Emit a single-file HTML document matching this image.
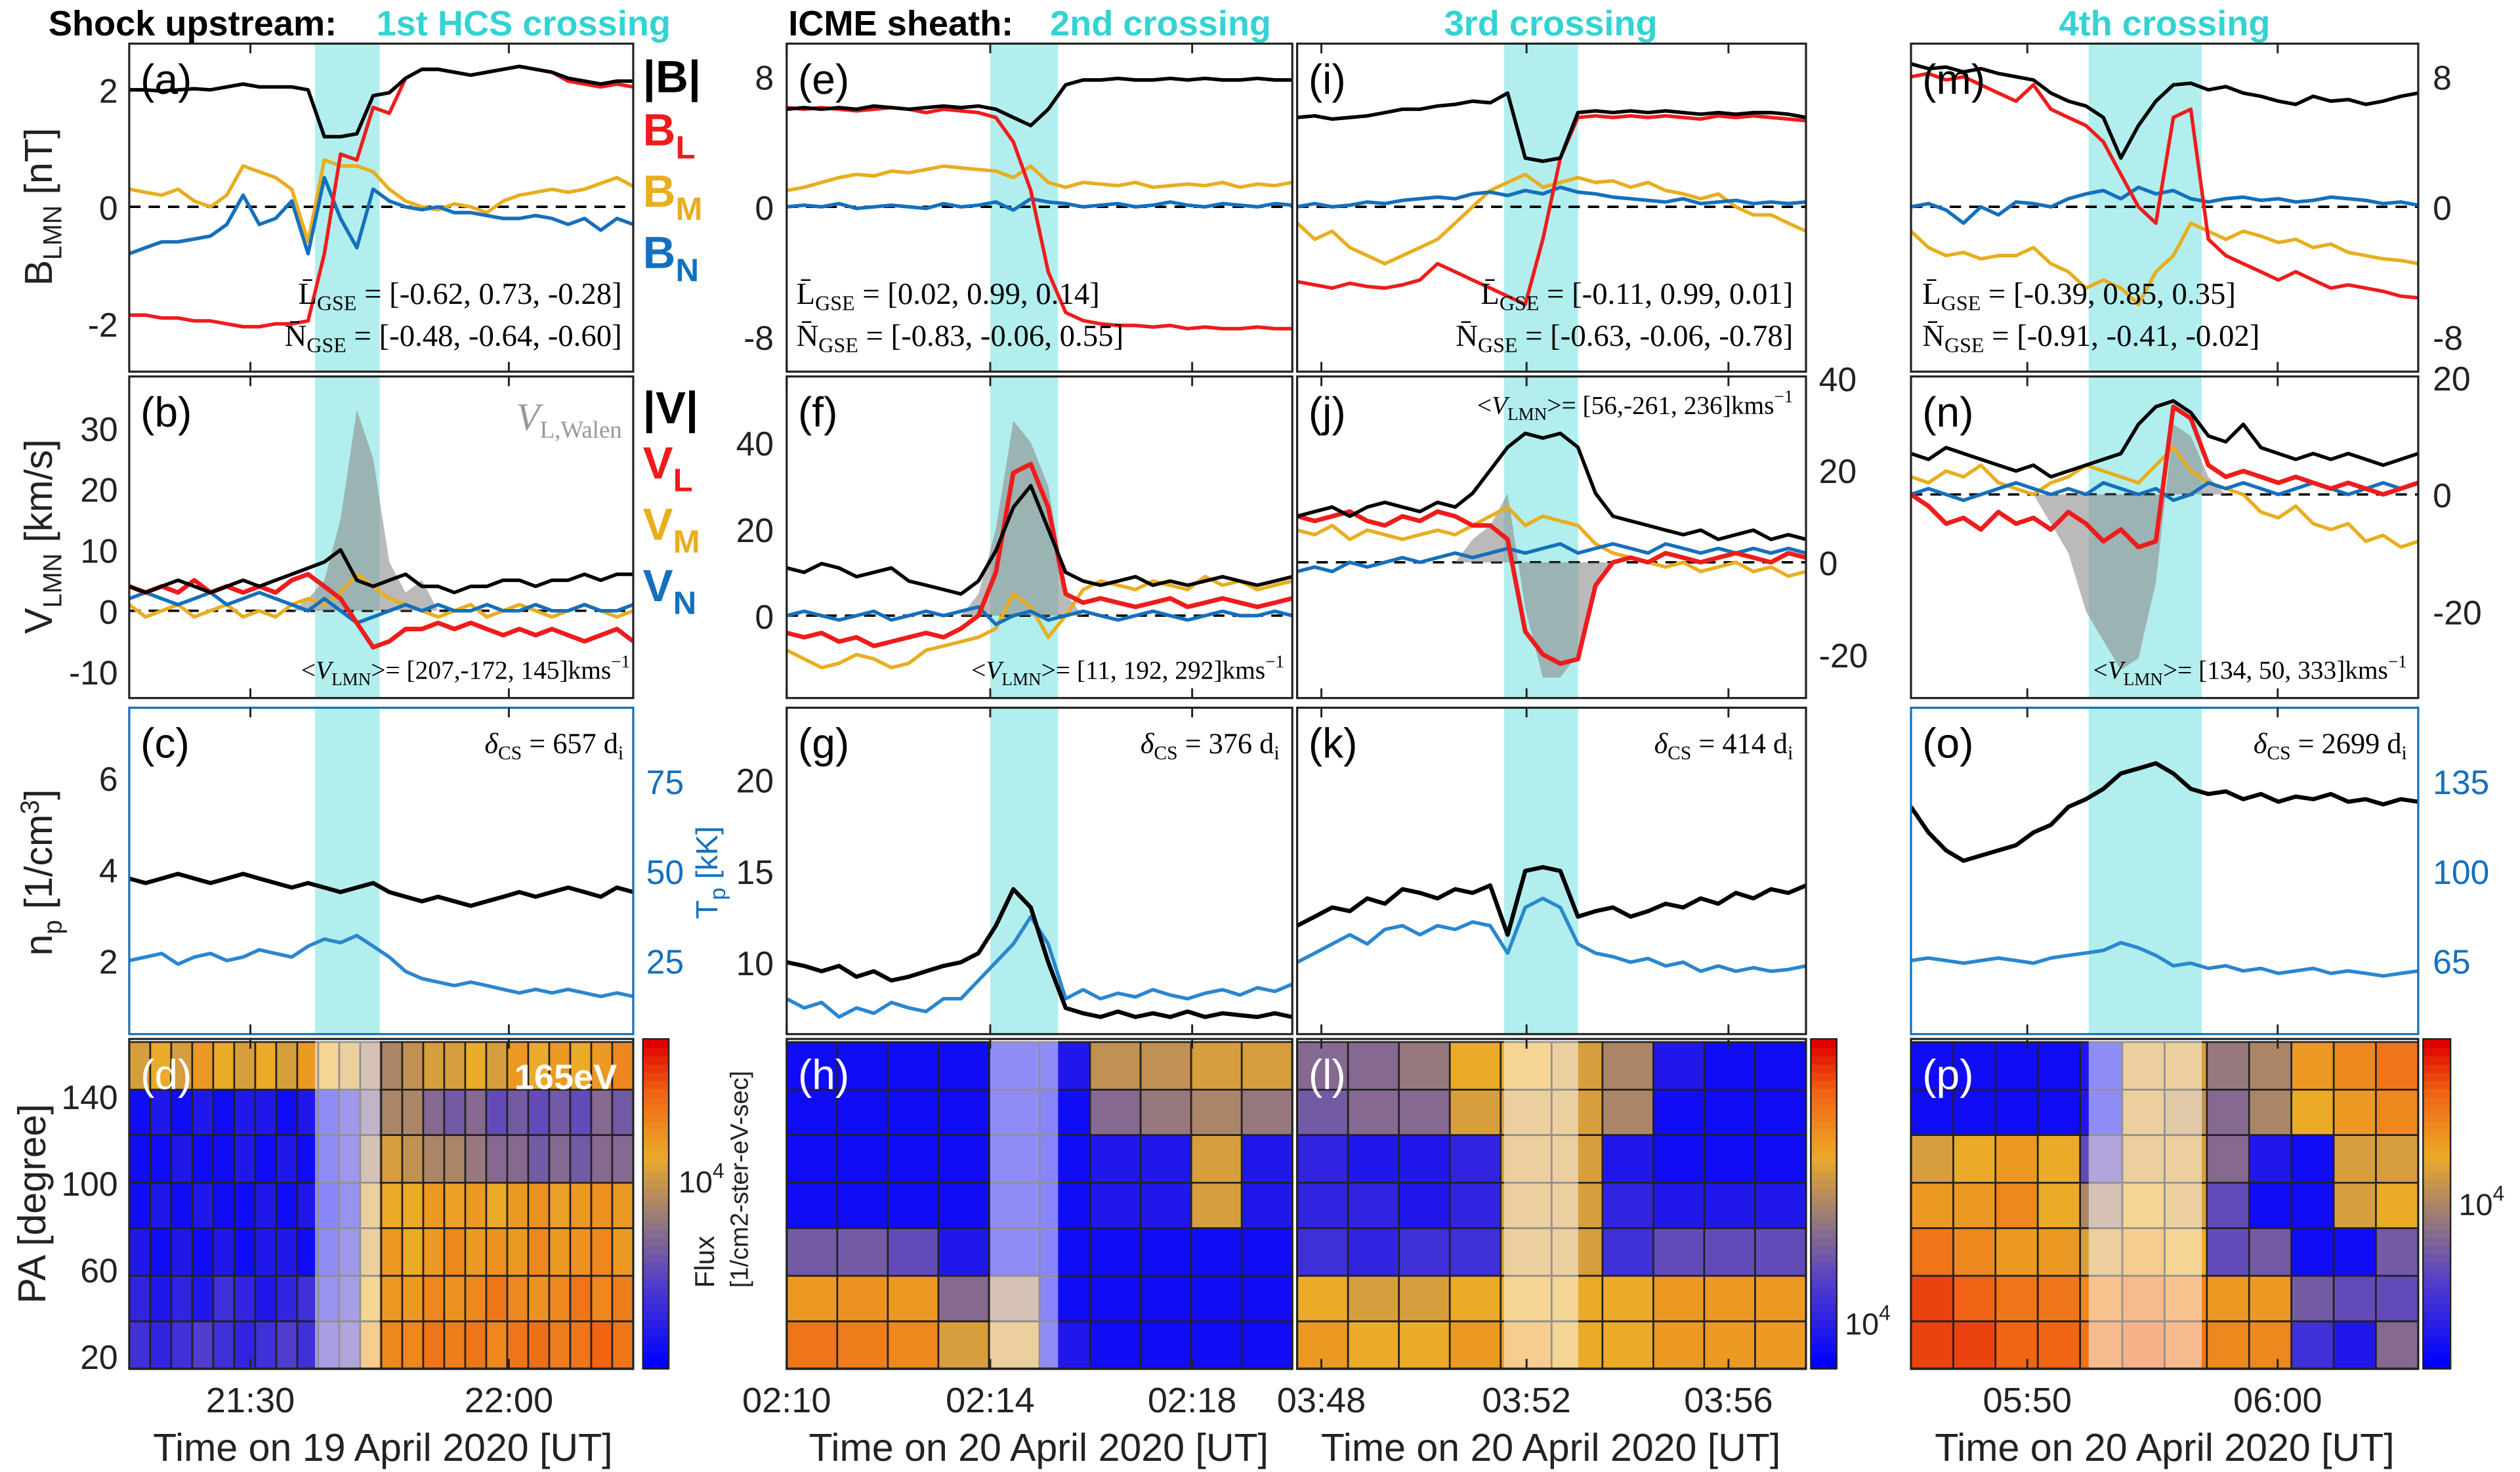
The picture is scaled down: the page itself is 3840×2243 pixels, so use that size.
<!DOCTYPE html>
<html><head><meta charset="utf-8"><style>
html,body{margin:0;padding:0;background:#fff;}
svg{display:block;}
text{font-family:"Liberation Sans",sans-serif;}
.sf{font-family:"Liberation Serif",serif;}
</style></head><body>
<svg id="fig" xmlns="http://www.w3.org/2000/svg" width="3840" height="2243" viewBox="0 0 1560 911" preserveAspectRatio="none">
<rect x="0" y="0" width="1560" height="911" fill="#fff"/>
<g id="layer-bg"></g><g id="layer-data"></g><g id="layer-frame"></g><g id="layer-text"></g>
</svg>
<script>
// ---- data ----
const b1Mag=[2.0,2.0,1.98,2.0,2.02,2.0,2.05,2.1,2.05,2.05,2.05,2.0,1.2,1.2,1.25,1.9,1.95,2.2,2.35,2.35,2.3,2.25,2.3,2.35,2.4,2.35,2.3,2.2,2.15,2.1,2.15,2.15];
const b1L=[-1.85,-1.85,-1.9,-1.9,-1.95,-1.95,-2.0,-2.05,-2.05,-2.0,-2.0,-1.95,-0.8,0.9,0.8,1.7,1.6,2.2,2.35,2.35,2.3,2.25,2.3,2.35,2.4,2.35,2.3,2.15,2.1,2.05,2.1,2.05];
const b1M=[0.3,0.25,0.2,0.3,0.1,0.0,0.2,0.7,0.6,0.5,0.3,-0.6,0.8,0.7,0.7,0.6,0.3,0.1,0.0,-0.05,0.05,0.0,-0.1,0.1,0.2,0.25,0.3,0.25,0.3,0.4,0.5,0.35];
const b1N=[-0.8,-0.7,-0.6,-0.6,-0.55,-0.5,-0.3,0.2,-0.3,-0.2,0.1,-0.8,0.5,-0.2,-0.7,0.3,0.1,0.0,-0.05,0.0,-0.1,-0.1,-0.15,-0.2,-0.2,-0.15,-0.2,-0.3,-0.2,-0.4,-0.2,-0.3];
const v1Mag=[4,3,4,5,4,3,4,5,4,5,6,7,8,10,5,4,5,6,4,4,3,4,4,5,5,4,5,5,6,5,6,6];
const v1L=[4,3,4,3,5,3,4,3,4,3,5,6,4,2,-2,-6,-5,-3,-3,-2,-3,-2,-3,-4,-3,-4,-3,-4,-5,-4,-3,-5];
const v1M=[1,-1,0,1,-1,0,1,-1,0,-1,1,2,1,3,6,4,2,1,0,-1,0,1,-1,0,1,0,-1,0,1,0,-1,0];
const v1N=[2,3,2,1,2,3,1,2,3,2,1,0,2,0,-2,-1,0,1,0,1,0,0,1,0,0,1,0,0,1,0,0,1];
const v1W=[0,0,0,0,0,0,0,0,0,0,0,2,5,15,33,25,8,3,5,0,0,0,0,0,0,0,0,0,0,0,0,0];
const n1=[3.8,3.7,3.8,3.9,3.8,3.7,3.8,3.9,3.8,3.7,3.6,3.7,3.6,3.5,3.6,3.7,3.5,3.4,3.3,3.4,3.3,3.2,3.3,3.4,3.5,3.4,3.5,3.6,3.5,3.4,3.6,3.5];
const t1=[25,26,27,24,26,27,25,26,28,27,26,29,31,30,32,29,26,22,20,19,18,19,18,17,16,17,16,17,16,15,16,15];

const b2Mag=[6,6.1,6,6.1,6,6.2,6.1,6,6.1,6.2,6.1,6.2,6,5.5,5,6,7.5,7.8,7.8,7.9,7.8,7.8,7.9,7.8,7.9,7.8,7.8,7.9,7.8,7.8];
const b2L=[6.1,6,6.1,6,5.9,6,6.1,6,5.8,6,5.9,5.8,5.5,4,1,-4,-6.5,-7,-7.2,-7.3,-7.3,-7.4,-7.3,-7.5,-7.4,-7.5,-7.5,-7.4,-7.5,-7.5];
const b2M=[1,1.2,1.5,1.8,2,1.9,2.2,2.1,2.3,2.5,2.4,2.3,2.2,1.8,2.5,1.5,1.2,1.5,1.4,1.3,1.5,1.2,1.3,1.4,1.3,1.5,1.2,1.4,1.3,1.5];
const b2N=[0,0.1,0,0.2,-0.1,0,0.1,0,-0.1,0.2,0,0.1,0.3,-0.2,0.5,0.3,0.2,0,0.1,0.2,0,0.1,0.3,0.1,0,0.2,0.1,0,0.2,0.1];
const v2Mag=[11,10,12,11,9,10,11,8,7,6,5,8,15,25,30,20,10,8,7,8,9,7,8,7,8,9,8,7,8,9];
const v2L=[-4,-5,-4,-6,-5,-7,-6,-5,-4,-5,-3,0,10,33,35,25,5,3,4,3,2,3,4,2,3,4,3,2,3,4];
const v2M=[-8,-10,-12,-11,-9,-10,-12,-11,-8,-7,-6,-5,-3,5,2,-5,0,6,8,7,6,8,7,6,9,7,8,6,7,8];
const v2N=[0,1,0,-1,0,1,-1,0,1,0,1,2,-2,0,1,-1,0,1,0,-1,0,1,0,-1,0,1,0,0,1,0];
const v2W=[0,0,0,0,0,0,0,0,0,0,0,5,20,45,40,30,5,0,0,0,0,0,0,0,0,0,0,0,0,0];
const n2=[10,9.8,9.5,9.8,9.2,9.5,9,9.2,9.5,9.8,10,10.5,12,14,13,10,7.5,7.2,7,7.3,7,7.2,7,7.3,7,7.2,7.1,7,7.2,7];
const t2=[8,7.5,7.8,7,7.5,7.2,7.8,7.5,7.3,8,8,9,10,11,12.5,11,8,8.5,8,8.3,8.1,8.5,8.2,8,8.3,8.5,8.2,8.6,8.4,8.8];

const b3Mag=[5.5,5.6,5.4,5.5,5.6,5.8,6,6,6.2,6.3,6.5,6.4,7,3,2.8,3,5.8,5.9,5.8,5.9,5.8,5.9,5.8,5.7,5.8,5.7,5.8,5.8,5.7,5.5];
const b3L=[-4.6,-4.8,-5,-4.7,-4.9,-5,-4.8,-4.5,-3.5,-4,-4.5,-5,-5.5,-6,-2,3,5.5,5.6,5.5,5.6,5.5,5.6,5.5,5.4,5.6,5.5,5.6,5.5,5.4,5.3];
const b3M=[-1,-2,-1.5,-2.5,-3,-3.5,-3,-2.5,-2,-1,0,1,1.5,2,1.2,1.5,1.8,1.5,1.6,1.2,1.5,1,0.8,0.5,0.8,0,-0.5,-0.5,-1,-1.5];
const b3N=[0,0.2,0,0.1,0.3,0.2,0.4,0.5,0.6,0.5,0.8,0.9,0.7,1,0.8,1.2,0.9,0.8,0.6,0.5,0.4,0.3,0.5,0.2,0.3,0.4,0.2,0.3,0.2,0.3];
const v3Mag=[10,11,12,10,12,13,12,11,13,12,15,20,25,28,27,28,25,15,10,9,8,7,6,7,5,6,7,5,6,5];
const v3L=[10,9,10,11,9,8,10,9,11,10,8,8,5,-15,-20,-22,-21,-5,0,1,0,2,1,0,1,2,1,0,2,1];
const v3M=[7,6,8,5,7,6,5,6,7,6,8,10,12,8,10,9,8,4,2,1,0,-1,0,-2,-1,0,-2,-1,-3,-2];
const v3N=[-2,-1,-2,0,-1,0,1,0,1,2,1,2,3,2,3,4,2,3,4,3,2,4,3,2,3,2,3,2,3,2];
const v3W=[0,0,0,0,0,0,0,0,0,0,5,8,15,-10,-25,-25,-20,-5,0,0,0,0,0,0,0,0,0,0,0,0];
const n3=[12,12.5,13,12.8,13.5,13.2,14,13.8,13.5,14,13.8,14.2,11.5,15,15.2,15,12.5,12.8,13,12.5,12.8,13.2,13,13.5,13.2,13.8,13.5,14,13.8,14.2];
const t3=[10,10.5,11,11.5,11,11.8,12,11.5,12,11.8,12.2,12,10.5,13,13.5,13,11,10.5,10.3,10,10.2,9.8,10,9.5,9.8,9.5,9.7,9.5,9.6,9.8];

const b4Mag=[8.8,8.5,8.6,8.3,8.5,8.2,8,7.8,7,6.5,6.2,5.5,3,5,6.5,7.5,7.6,7.2,7.4,7,6.8,6.5,6.3,6.8,6.5,6.6,6.3,6.5,6.8,7];
const b4L=[8,8.2,7.8,8,7.5,7,6.5,7.5,6,5.5,5,4,2,0,-1,5.5,6,-2,-3,-3.5,-4,-4.5,-4,-4.5,-5,-4.8,-5,-5.2,-5.5,-5.6];
const b4M=[-1.5,-2.5,-3,-2.8,-3.2,-3,-3,-2.5,-3.5,-4,-5,-4.5,-5,-6,-4,-3,-1,-1.5,-2,-1.5,-1.8,-2.2,-2,-2.5,-2.3,-2.8,-3,-3.2,-3.3,-3.5];
const b4N=[0,0.2,-0.2,-1,0,-0.5,0.3,0.2,0,0.5,0.8,1,0.5,1.2,0.8,1,0.5,0.3,0.5,0.6,0.4,0.5,0.3,0.4,0.6,0.5,0.4,0.2,0.3,0.1];
const v4Mag=[7,6,8,7,6,5,4,5,3,4,5,6,7,12,15,16,14,10,9,12,8,7,6,7,6,7,6,5,6,7];
const v4L=[0,-2,-5,-4,-6,-3,-5,-4,-6,-3,-5,-8,-6,-9,-8,15,13,5,3,4,3,2,3,2,1,2,1,0,1,2];
const v4M=[3,2,4,3,5,2,1,0,2,3,5,4,3,2,5,8,4,2,1,0,-3,-4,-2,-5,-6,-5,-8,-7,-9,-8];
const v4N=[0,1,0,-1,0,1,2,1,0,1,0,2,1,0,1,-1,0,2,1,2,1,0,1,2,1,0,1,2,1,2];
const v4W=[0,0,0,0,0,0,0,0,-5,-10,-20,-25,-30,-28,-15,12,10,3,0,0,0,0,0,0,0,0,0,0,0,0];
const n4=[125,115,108,104,106,108,110,115,118,125,128,132,138,140,142,138,132,130,131,128,130,127,129,128,130,127,128,126,128,127];
const t4=[65,66,65,64,65,66,65,64,66,67,68,69,72,70,67,63,64,62,63,61,62,60,61,62,60,61,60,59,60,61];

const paEdges=[165,143,122,100,79,57,36,14];
const pad1=[[0.6,0.65,0.6,0.7,0.65,0.6,0.65,0.6,0.7,0.65,0.6,0.5,0.5,0.55,0.6,0.6,0.65,0.6,0.7,0.65,0.7,0.65,0.7,0.75],
[0.05,0.1,0.05,0.1,0.05,0.1,0.1,0.05,0.1,0.1,0.2,0.4,0.5,0.5,0.4,0.35,0.4,0.3,0.35,0.3,0.35,0.3,0.4,0.35],
[0.05,0.05,0.1,0.05,0.05,0.1,0.05,0.1,0.05,0.1,0.2,0.5,0.6,0.55,0.5,0.5,0.45,0.4,0.4,0.35,0.4,0.35,0.4,0.4],
[0.05,0.1,0.05,0.1,0.05,0.05,0.1,0.05,0.1,0.05,0.15,0.6,0.65,0.65,0.7,0.68,0.7,0.65,0.7,0.72,0.68,0.7,0.72,0.7],
[0.1,0.05,0.1,0.05,0.1,0.05,0.1,0.1,0.05,0.1,0.2,0.6,0.7,0.65,0.7,0.75,0.7,0.72,0.7,0.75,0.7,0.72,0.75,0.7],
[0.15,0.1,0.15,0.1,0.2,0.15,0.1,0.15,0.2,0.15,0.25,0.65,0.7,0.7,0.75,0.72,0.75,0.8,0.75,0.72,0.75,0.8,0.75,0.78],
[0.2,0.15,0.2,0.25,0.2,0.15,0.2,0.25,0.2,0.25,0.3,0.7,0.75,0.75,0.8,0.78,0.8,0.75,0.8,0.82,0.78,0.8,0.85,0.8]];
const pad2=[[0.05,0.05,0.05,0.05,0.1,0.1,0.55,0.55,0.6,0.6],
[0.05,0.05,0.05,0.05,0.1,0.05,0.4,0.45,0.5,0.45],
[0.05,0.05,0.05,0.05,0.1,0.05,0.1,0.1,0.6,0.1],
[0.05,0.05,0.05,0.05,0.1,0.05,0.1,0.1,0.6,0.1],
[0.35,0.35,0.3,0.1,0.1,0.05,0.05,0.05,0.05,0.05],
[0.7,0.72,0.7,0.4,0.5,0.05,0.05,0.05,0.05,0.05],
[0.8,0.78,0.75,0.6,0.6,0.1,0.05,0.05,0.05,0.05]];
const pad3=[[0.4,0.4,0.45,0.65,0.65,0.6,0.5,0.1,0.05,0.05],
[0.35,0.4,0.4,0.6,0.6,0.6,0.5,0.05,0.05,0.05],
[0.15,0.1,0.1,0.15,0.6,0.6,0.1,0.05,0.05,0.05],
[0.15,0.15,0.1,0.15,0.6,0.6,0.15,0.1,0.1,0.1],
[0.2,0.15,0.2,0.2,0.6,0.6,0.2,0.3,0.3,0.3],
[0.65,0.6,0.6,0.65,0.65,0.65,0.65,0.7,0.7,0.7],
[0.7,0.65,0.65,0.7,0.7,0.65,0.65,0.7,0.7,0.7]];
const pad4=[[0.05,0.05,0.05,0.05,0.1,0.6,0.6,0.45,0.5,0.7,0.75,0.8],
[0.05,0.05,0.05,0.05,0.1,0.6,0.55,0.4,0.5,0.65,0.7,0.75],
[0.6,0.65,0.7,0.65,0.3,0.6,0.6,0.4,0.1,0.05,0.6,0.6],
[0.7,0.7,0.75,0.65,0.5,0.65,0.6,0.3,0.05,0.05,0.6,0.65],
[0.8,0.75,0.7,0.7,0.6,0.7,0.65,0.3,0.35,0.05,0.05,0.35],
[0.9,0.85,0.8,0.8,0.75,0.8,0.75,0.7,0.7,0.35,0.3,0.3],
[0.9,0.9,0.85,0.85,0.8,0.85,0.8,0.75,0.75,0.2,0.1,0.4]];

// ---- layout ----
const NS="http://www.w3.org/2000/svg";
const COLS=[[80,392],[487,800],[803,1118],[1183,1497]];
const CYAN=[[195,235],[613,655],[931,977],[1293,1363]];
const ROWS=[[27,230],[233,432],[438,640],[643,847]];
const RED="#ee1c1c",ORG="#e8ae20",BLU="#1470bd";
const yB=[v=>128-v*36.2,v=>128-v*10.06,v=>128-v*10.06,v=>128-v*10.06];
const yV=[v=>378-v*3.77,v=>381-v*2.68,v=>348-v*2.85,v=>306-v*3.62];
const yN=[v=>538-(v-4)*28.3,v=>539-(v-15)*11.3,v=>539-(v-15)*11.3,v=>539-(v-100)*1.586];
const yT=[v=>539-(v-50)*2.22,v=>539-(v-15)*11.3,v=>539-(v-15)*11.3,v=>539-(v-100)*1.586];
const yPA=p=>732-(p-100)*1.34;

const bg=document.getElementById('layer-bg'),dl=document.getElementById('layer-data'),fr=document.getElementById('layer-frame'),tl=document.getElementById('layer-text');
function mk(tag,attrs,parent){const e=document.createElementNS(NS,tag);for(const k in attrs)e.setAttribute(k,attrs[k]);parent.appendChild(e);return e;}
const defs=mk('defs',{},document.getElementById('fig'));
for(let c=0;c<4;c++)for(let r=0;r<4;r++){const cp=mk('clipPath',{id:'cp'+c+r},defs);mk('rect',{x:COLS[c][0],y:ROWS[r][0],width:COLS[c][1]-COLS[c][0],height:ROWS[r][1]-ROWS[r][0]},cp);}
function xAt(c,i,n){return COLS[c][0]+(COLS[c][1]-COLS[c][0])*i/(n-1);}
function series(c,r,arr,ys,color,name,w){
  const pts=arr.map((v,i)=>xAt(c,i,arr.length).toFixed(1)+','+ys(v).toFixed(1)).join(' ');
  const e=mk('polyline',{points:pts,fill:'none',stroke:color,'stroke-width':w||2.2,'stroke-linejoin':'round','clip-path':'url(#cp'+c+r+')'},dl);
  
  
}
function walen(c,arr,ys,name){
  const n=arr.length;let pts=xAt(c,0,n)+','+ys(0);
  arr.forEach((v,i)=>{pts+=' '+xAt(c,i,n).toFixed(1)+','+ys(v).toFixed(1);});
  pts+=' '+xAt(c,n-1,n)+','+ys(0);
  const e=mk('polygon',{points:pts,fill:'rgba(140,140,140,0.6)','clip-path':'url(#cp'+c+'1)'},dl);
  
  
}
function cmap(t){const st=[[0,[0,0,255]],[0.25,[80,60,205]],[0.45,[150,120,125]],[0.65,[235,170,40]],[0.85,[240,100,20]],[1,[225,0,0]]];
  for(let i=1;i<st.length;i++){if(t<=st[i][0]){const a=st[i-1],b=st[i],f=(t-a[0])/(b[0]-a[0]);return 'rgb('+[0,1,2].map(k=>Math.round(a[1][k]+(b[1][k]-a[1][k])*f)).join(',')+')';}}return 'rgb(225,0,0)';}
function heat(c,grid,name){
  const nc=grid[0].length,W=(COLS[c][1]-COLS[c][0])/nc;
  grid.forEach((row,ri)=>row.forEach((v,ci)=>{
    const y0=yPA(paEdges[ri]),y1=yPA(paEdges[ri+1]);
    const e=mk('rect',{x:(COLS[c][0]+ci*W).toFixed(1),y:y0.toFixed(1),width:W.toFixed(1),height:(y1-y0).toFixed(1),fill:cmap(v),stroke:'#222','stroke-width':1.1},dl);
    
    
  }));
}
function txt(x,y,s,opt,name){const o=Object.assign({x:x,y:y,'font-size':22,fill:'#000'},opt||{});const e=mk('text',o,tl);e.innerHTML=s;return e;}

for(let c=0;c<4;c++)for(let r=0;r<3;r++){
  const e=mk('rect',{x:CYAN[c][0],y:ROWS[r][0],width:CYAN[c][1]-CYAN[c][0],height:ROWS[r][1]-ROWS[r][0],fill:'#b2eeee'},bg);
  
  
}
for(let c=0;c<4;c++){mk('line',{x1:COLS[c][0],x2:COLS[c][1],y1:yB[c](0),y2:yB[c](0),stroke:'#000','stroke-width':1.5,'stroke-dasharray':'7,5'},bg);
  mk('line',{x1:COLS[c][0],x2:COLS[c][1],y1:yV[c](0),y2:yV[c](0),stroke:'#000','stroke-width':1.5,'stroke-dasharray':'7,5'},bg);}

const B=[[b1Mag,b1L,b1M,b1N],[b2Mag,b2L,b2M,b2N],[b3Mag,b3L,b3M,b3N],[b4Mag,b4L,b4M,b4N]];
const V=[[v1Mag,v1L,v1M,v1N,v1W],[v2Mag,v2L,v2M,v2N,v2W],[v3Mag,v3L,v3M,v3N,v3W],[v4Mag,v4L,v4M,v4N,v4W]];
const NT=[[n1,t1],[n2,t2],[n3,t3],[n4,t4]];
const PAD=[pad1,pad2,pad3,pad4];
for(let c=0;c<4;c++){
  walen(c,V[c][4],yV[c],'v-walen-fill-'+(c+1));
  series(c,0,B[c][2],yB[c],ORG,'bm-line-'+(c+1));series(c,0,B[c][3],yB[c],BLU,'bn-line-'+(c+1));
  series(c,0,B[c][1],yB[c],RED,'bl-line-'+(c+1));series(c,0,B[c][0],yB[c],'#000','b-magnitude-line-'+(c+1));
  series(c,1,V[c][2],yV[c],ORG,'vm-line-'+(c+1));series(c,1,V[c][3],yV[c],BLU,'vn-line-'+(c+1));
  series(c,1,V[c][1],yV[c],RED,'vl-line-'+(c+1),2.8);series(c,1,V[c][0],yV[c],'#000','v-magnitude-line-'+(c+1));
  series(c,2,NT[c][1],yT[c],'#2a86d0','tp-line-'+(c+1));series(c,2,NT[c][0],yN[c],'#000','np-line-'+(c+1),2.6);
  heat(c,PAD[c],'pa-heatmap-'+(c+1));
  const e=mk('rect',{x:CYAN[c][0],y:ROWS[3][0],width:CYAN[c][1]-CYAN[c][0],height:ROWS[3][1]-ROWS[3][0],fill:'rgba(255,255,255,0.5)'},dl);
  
  
}
for(let c=0;c<4;c++)for(let r=0;r<4;r++){
  const e=mk('rect',{x:COLS[c][0],y:ROWS[r][0],width:COLS[c][1]-COLS[c][0],height:ROWS[r][1]-ROWS[r][0],fill:'none',stroke:(r==2&&(c==0||c==3))?'#1470bd':'#222','stroke-width':1.3},fr);
  
  
}
const CB=[[398,414],[1121,1137],[1121,1137],[1500,1517]];
[0,1,3].forEach(c=>{
  for(let i=0;i<40;i++){mk('rect',{x:CB[c][0],y:(ROWS[3][1]-(i+1)*(ROWS[3][1]-ROWS[3][0])/40).toFixed(1),width:CB[c][1]-CB[c][0],height:((ROWS[3][1]-ROWS[3][0])/40+0.6).toFixed(1),fill:cmap(i/39)},fr);}
  const e=mk('rect',{x:CB[c][0],y:ROWS[3][0],width:CB[c][1]-CB[c][0],height:ROWS[3][1]-ROWS[3][0],fill:'none',stroke:'#222','stroke-width':1},fr);
  
  
});
function tick(x1,y1,x2,y2){mk('line',{x1:x1,y1:y1,x2:x2,y2:y2,stroke:'#222','stroke-width':1.2},fr);}
const xt=[[155,315],[487,613,738],[818,945,1070],[1255,1410]];
for(let c=0;c<4;c++)for(let r=0;r<4;r++)xt[c].forEach(x=>{tick(x,ROWS[r][0],x,ROWS[r][0]+6);tick(x,ROWS[r][1],x,ROWS[r][1]-6);});

// ---- text ----
txt(30,22,'Shock upstream:',{'font-weight':'bold','font-size':22},'title-col1');
txt(233,22,'1st HCS crossing',{'font-weight':'bold','font-size':22,fill:'#33d3d3'},'subtitle-col1');
txt(488,22,'ICME sheath:',{'font-weight':'bold','font-size':22},'title-col2');
txt(650,22,'2nd crossing',{'font-weight':'bold','font-size':22,fill:'#33d3d3'},'subtitle-col2');
txt(960,22,'3rd crossing',{'font-weight':'bold','font-size':22,fill:'#33d3d3','text-anchor':'middle'},'subtitle-col3');
txt(1340,22,'4th crossing',{'font-weight':'bold','font-size':22,fill:'#33d3d3','text-anchor':'middle'},'subtitle-col4');
const letters=[['a','b','c','d'],['e','f','g','h'],['i','j','k','l'],['m','n','o','p']];
for(let c=0;c<4;c++)for(let r=0;r<4;r++)txt(COLS[c][0]+7,ROWS[r][0]+31,'('+letters[c][r]+')',{'font-size':26,fill:r==3?'#fff':'#000'},'panel-label-'+letters[c][r]);
const TS={'font-size':21,'text-anchor':'end',fill:'#222'};
const TR={'font-size':21,fill:'#222'};
[[2,'2'],[0,'0'],[-2,'-2']].forEach(t=>txt(73,yB[0](t[0])+8,t[1],TS,'y-tick-b1'));
[[8,'8'],[0,'0'],[-8,'-8']].forEach(t=>txt(479,yB[1](t[0])+8,t[1],TS,'y-tick-b2'));
[[8,'8'],[0,'0'],[-8,'-8']].forEach(t=>txt(1506,yB[3](t[0])+8,t[1],TR,'y-tick-b4'));
[[30,'30'],[20,'20'],[10,'10'],[0,'0'],[-10,'-10']].forEach(t=>txt(73,yV[0](t[0])+8,t[1],TS,'y-tick-v1'));
[[40,'40'],[20,'20'],[0,'0']].forEach(t=>txt(479,yV[1](t[0])+8,t[1],TS,'y-tick-v2'));
[[40,'40'],[20,'20'],[0,'0'],[-20,'-20']].forEach(t=>txt(1126,yV[2](t[0])+8,t[1],TR,'y-tick-v3'));
[[20,'20'],[0,'0'],[-20,'-20']].forEach(t=>txt(1506,yV[3](t[0])+8,t[1],TR,'y-tick-v4'));
[[6,'6'],[4,'4'],[2,'2']].forEach(t=>txt(73,yN[0](t[0])+8,t[1],TS,'y-tick-n1'));
[[75,'75'],[50,'50'],[25,'25']].forEach(t=>txt(400,yT[0](t[0])+8,t[1],{'font-size':21,fill:'#1470bd'},'y-tick-tp1'));
[[20,'20'],[15,'15'],[10,'10']].forEach(t=>txt(479,yN[1](t[0])+8,t[1],TS,'y-tick-n2'));
[[135,'135'],[100,'100'],[65,'65']].forEach(t=>txt(1506,yT[3](t[0])+8,t[1],{'font-size':21,fill:'#1470bd'},'y-tick-tp4'));
[[140,'140'],[100,'100'],[60,'60'],[20,'20']].forEach(t=>txt(73,yPA(t[0])+8,t[1],TS,'y-tick-pa'));
const XL=[['21:30','22:00'],['02:10','02:14','02:18'],['03:48','03:52','03:56'],['05:50','06:00']];
for(let c=0;c<4;c++)xt[c].forEach((x,i)=>txt(x,874,XL[c][i],{'font-size':22,'text-anchor':'middle',fill:'#222'},'x-tick-label'));
txt(237,904,'Time on 19 April 2020 [UT]',{'font-size':24,'text-anchor':'middle',fill:'#222'},'x-axis-title-col1');
txt(643,904,'Time on 20 April 2020 [UT]',{'font-size':24,'text-anchor':'middle',fill:'#222'},'x-axis-title-col2');
txt(960,904,'Time on 20 April 2020 [UT]',{'font-size':24,'text-anchor':'middle',fill:'#222'},'x-axis-title-col3');
txt(1340,904,'Time on 20 April 2020 [UT]',{'font-size':24,'text-anchor':'middle',fill:'#222'},'x-axis-title-col4');
txt(0,0,'B<tspan font-size="16" dy="6">LMN</tspan><tspan dy="-6"> [nT]</tspan>',{'font-size':24,transform:'translate(32,128) rotate(-90)','text-anchor':'middle',fill:'#222'},'y-axis-title-b');
txt(0,0,'V<tspan font-size="16" dy="6">LMN</tspan><tspan dy="-6"> [km/s]</tspan>',{'font-size':24,transform:'translate(32,332) rotate(-90)','text-anchor':'middle',fill:'#222'},'y-axis-title-v');
txt(0,0,'n<tspan font-size="16" dy="6">p</tspan><tspan dy="-6"> [1/cm</tspan><tspan font-size="16" dy="-8">3</tspan><tspan dy="8">]</tspan>',{'font-size':24,transform:'translate(32,540) rotate(-90)','text-anchor':'middle',fill:'#222'},'y-axis-title-np');
txt(0,0,'T<tspan font-size="14" dy="5">p</tspan><tspan dy="-5"> [kK]</tspan>',{'font-size':19,transform:'translate(444,540) rotate(-90)','text-anchor':'middle',fill:'#1470bd'},'y-axis-title-tp');
txt(0,0,'PA [degree]',{'font-size':24,transform:'translate(28,745) rotate(-90)','text-anchor':'middle',fill:'#222'},'y-axis-title-pa');
txt(0,0,'Flux',{'font-size':17,transform:'translate(442,797) rotate(-90)','text-anchor':'start',fill:'#222'},'colorbar-title');
txt(0,0,'[1/cm2-ster-eV-sec]',{'font-size':15.5,transform:'translate(463,797) rotate(-90)','text-anchor':'start',fill:'#222'},'colorbar-units');
txt(398,57,'|B|',{'font-size':28,'font-weight':'bold'},'legend-b');
txt(398,90,'B<tspan font-size="20" dy="8">L</tspan>',{'font-size':28,'font-weight':'bold',fill:RED},'legend-bl');
txt(398,128,'B<tspan font-size="20" dy="8">M</tspan>',{'font-size':28,'font-weight':'bold',fill:ORG},'legend-bm');
txt(398,166,'B<tspan font-size="20" dy="8">N</tspan>',{'font-size':28,'font-weight':'bold',fill:BLU},'legend-bn');
txt(398,262,'|V|',{'font-size':28,'font-weight':'bold'},'legend-v');
txt(398,296,'V<tspan font-size="20" dy="8">L</tspan>',{'font-size':28,'font-weight':'bold',fill:RED},'legend-vl');
txt(398,334,'V<tspan font-size="20" dy="8">M</tspan>',{'font-size':28,'font-weight':'bold',fill:ORG},'legend-vm');
txt(398,372,'V<tspan font-size="20" dy="8">N</tspan>',{'font-size':28,'font-weight':'bold',fill:BLU},'legend-vn');
const AS={'font-size':19,'class':'sf'};
function ann(x,y,s,anchor,name){const o=Object.assign({},AS);o['text-anchor']=anchor;txt(x,y,s,o,name);}
ann(385,188,'L̄<tspan font-size="13" dy="4">GSE</tspan><tspan dy="-4"> = [-0.62, 0.73, -0.28]</tspan>','end','lmn-l-a');
ann(385,214,'N̄<tspan font-size="13" dy="4">GSE</tspan><tspan dy="-4"> = [-0.48, -0.64, -0.60]</tspan>','end','lmn-n-a');
ann(493,188,'L̄<tspan font-size="13" dy="4">GSE</tspan><tspan dy="-4"> = [0.02, 0.99, 0.14]</tspan>','start','lmn-l-e');
ann(493,214,'N̄<tspan font-size="13" dy="4">GSE</tspan><tspan dy="-4"> = [-0.83, -0.06, 0.55]</tspan>','start','lmn-n-e');
ann(1110,188,'L̄<tspan font-size="13" dy="4">GSE</tspan><tspan dy="-4"> = [-0.11, 0.99, 0.01]</tspan>','end','lmn-l-i');
ann(1110,214,'N̄<tspan font-size="13" dy="4">GSE</tspan><tspan dy="-4"> = [-0.63, -0.06, -0.78]</tspan>','end','lmn-n-i');
ann(1190,188,'L̄<tspan font-size="13" dy="4">GSE</tspan><tspan dy="-4"> = [-0.39, 0.85, 0.35]</tspan>','start','lmn-l-m');
ann(1190,214,'N̄<tspan font-size="13" dy="4">GSE</tspan><tspan dy="-4"> = [-0.91, -0.41, -0.02]</tspan>','start','lmn-n-m');
txt(385,266,'<tspan font-style="italic">V</tspan><tspan font-size="15" dy="5">L,Walen</tspan>',{'font-size':24,'text-anchor':'end',fill:'#999','class':'sf'},'walen-label');
const VS={'font-size':16,'text-anchor':'end','class':'sf'};
txt(390,420,'&lt;<tspan font-style="italic">V</tspan><tspan font-size="11" dy="4">LMN</tspan><tspan dy="-4">&gt;= [207,-172, 145]kms</tspan><tspan font-size="11" dy="-7">−1</tspan>',VS,'mean-v-b');
txt(795,420,'&lt;<tspan font-style="italic">V</tspan><tspan font-size="11" dy="4">LMN</tspan><tspan dy="-4">&gt;= [11, 192, 292]kms</tspan><tspan font-size="11" dy="-7">−1</tspan>',VS,'mean-v-f');
txt(1110,256,'&lt;<tspan font-style="italic">V</tspan><tspan font-size="11" dy="4">LMN</tspan><tspan dy="-4">&gt;= [56,-261, 236]kms</tspan><tspan font-size="11" dy="-7">−1</tspan>',VS,'mean-v-j');
txt(1490,420,'&lt;<tspan font-style="italic">V</tspan><tspan font-size="11" dy="4">LMN</tspan><tspan dy="-4">&gt;= [134, 50, 333]kms</tspan><tspan font-size="11" dy="-7">−1</tspan>',VS,'mean-v-n');
const DS={'font-size':18,'text-anchor':'end','class':'sf'};
txt(386,466,'<tspan font-style="italic">δ</tspan><tspan font-size="12" dy="4">CS</tspan><tspan dy="-4"> = 657 d</tspan><tspan font-size="12" dy="4">i</tspan>',DS,'thickness-c');
txt(792,466,'<tspan font-style="italic">δ</tspan><tspan font-size="12" dy="4">CS</tspan><tspan dy="-4"> = 376 d</tspan><tspan font-size="12" dy="4">i</tspan>',DS,'thickness-g');
txt(1110,466,'<tspan font-style="italic">δ</tspan><tspan font-size="12" dy="4">CS</tspan><tspan dy="-4"> = 414 d</tspan><tspan font-size="12" dy="4">i</tspan>',DS,'thickness-k');
txt(1490,466,'<tspan font-style="italic">δ</tspan><tspan font-size="12" dy="4">CS</tspan><tspan dy="-4"> = 2699 d</tspan><tspan font-size="12" dy="4">i</tspan>',DS,'thickness-o');
txt(382,674,'165eV',{'font-size':22,'font-weight':'bold',fill:'#fff','text-anchor':'end'},'energy-label');
txt(420,738,'10<tspan font-size="13" dy="-9">4</tspan>',{'font-size':19,fill:'#222'},'colorbar-tick-1');
txt(1142,826,'10<tspan font-size="13" dy="-9">4</tspan>',{'font-size':19,fill:'#222'},'colorbar-tick-2');
txt(1522,752,'10<tspan font-size="13" dy="-9">4</tspan>',{'font-size':19,fill:'#222'},'colorbar-tick-4');
</script>
</body></html>
